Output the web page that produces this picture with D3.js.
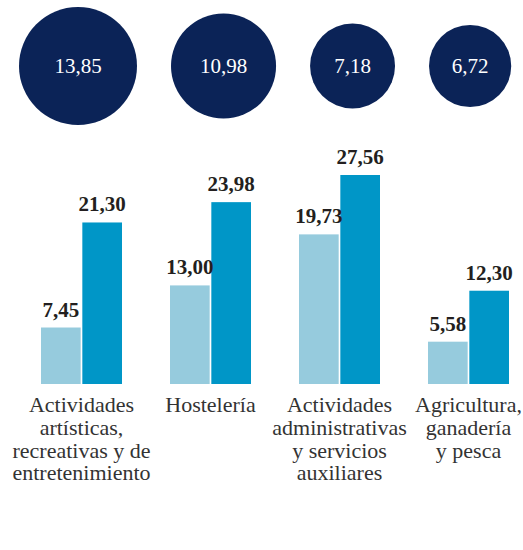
<!DOCTYPE html>
<html>
<head>
<meta charset="utf-8">
<script src="https://cdn.jsdelivr.net/npm/d3@7"></script>
<style>
    body { margin: 0; background: #fff; }
    svg { display: block; }
</style>
</head>
<body>
<svg id="chart"></svg>
<script>
var categories = [
    ['Actividades', 'artísticas,', 'recreativas y de', 'entretenimiento'],
    ['Hostelería'],
    ['Actividades', 'administrativas', 'y servicios', 'auxiliares'],
    ['Agricultura,', 'ganadería', 'y pesca']
];
var circleValues = [13.85, 10.98, 7.18, 6.72];
var seriesA = [7.45, 13.00, 19.73, 5.58];
var seriesB = [21.30, 23.98, 27.56, 12.30];

var width = 523, height = 550;
var serif = "'Liberation Serif', 'Times New Roman', 'DejaVu Serif', serif";
var fmt = function (v) { return v.toFixed(2).replace('.', ','); };

var svg = d3.select('#chart')
    .attr('width', width)
    .attr('height', height);

// bubbles on top, area ~ value
var r = d3.scaleSqrt().domain([0, 13.85]).range([0, 59]);
var cy = 66, gap = 34;
var cx = [];
var edge = 19;
circleValues.forEach(function (v) {
    cx.push(edge + r(v));
    edge = edge + 2 * r(v) + gap;
});

var bubbles = svg.append('g');
bubbles.selectAll('circle')
    .data(circleValues)
    .enter().append('circle')
    .attr('cx', function (d, i) { return cx[i]; })
    .attr('cy', cy)
    .attr('r', function (d) { return r(d); })
    .attr('fill', '#0b2357');
bubbles.selectAll('text')
    .data(circleValues)
    .enter().append('text')
    .attr('x', function (d, i) { return cx[i]; })
    .attr('y', cy + 7)
    .attr('text-anchor', 'middle')
    .attr('fill', '#fff')
    .style('font-family', serif)
    .attr('font-size', 21)
    .text(fmt);

// grouped bars
var x0 = d3.scaleBand()
    .domain(d3.range(categories.length))
    .range([41, 41 + 129 * 4 - 48])
    .paddingInner(48 / 129);
var x1 = d3.scaleBand()
    .domain([0, 1])
    .range([0, x0.bandwidth()])
    .paddingInner(0.04);
var y = d3.scaleLinear()
    .domain([0, 27.56])
    .range([384, 175]);

var colors = ['#96cbdd', '#0096c7'];
var groups = svg.append('g').selectAll('g')
    .data(categories)
    .enter().append('g')
    .attr('transform', function (d, i) { return 'translate(' + x0(i) + ',0)'; });

groups.each(function (d, i) {
    var g = d3.select(this);
    var vals = [seriesA[i], seriesB[i]];
    g.selectAll('rect')
        .data(vals)
        .enter().append('rect')
        .attr('x', function (v, j) { return x1(j); })
        .attr('y', function (v) { return y(v); })
        .attr('width', x1.bandwidth())
        .attr('height', function (v) { return y(0) - y(v); })
        .attr('fill', function (v, j) { return colors[j]; });
    g.selectAll('text.val')
        .data(vals)
        .enter().append('text')
        .attr('class', 'val')
        .attr('x', function (v, j) { return x1(j) + x1.bandwidth() / 2; })
        .attr('y', function (v) { return y(v) - 11; })
        .attr('text-anchor', 'middle')
        .attr('fill', '#231f20')
        .style('font-family', serif)
        .attr('font-weight', 'bold')
        .attr('font-size', 21)
        .text(fmt);
    var t = g.append('text')
        .attr('text-anchor', 'middle')
        .attr('fill', '#333')
        .style('font-family', serif)
        .attr('font-size', 22);
    d.forEach(function (line, k) {
        t.append('tspan')
            .attr('x', x0.bandwidth() / 2)
            .attr('y', 412 + k * 22.8)
            .text(line);
    });
});
</script>
</body>
</html>
